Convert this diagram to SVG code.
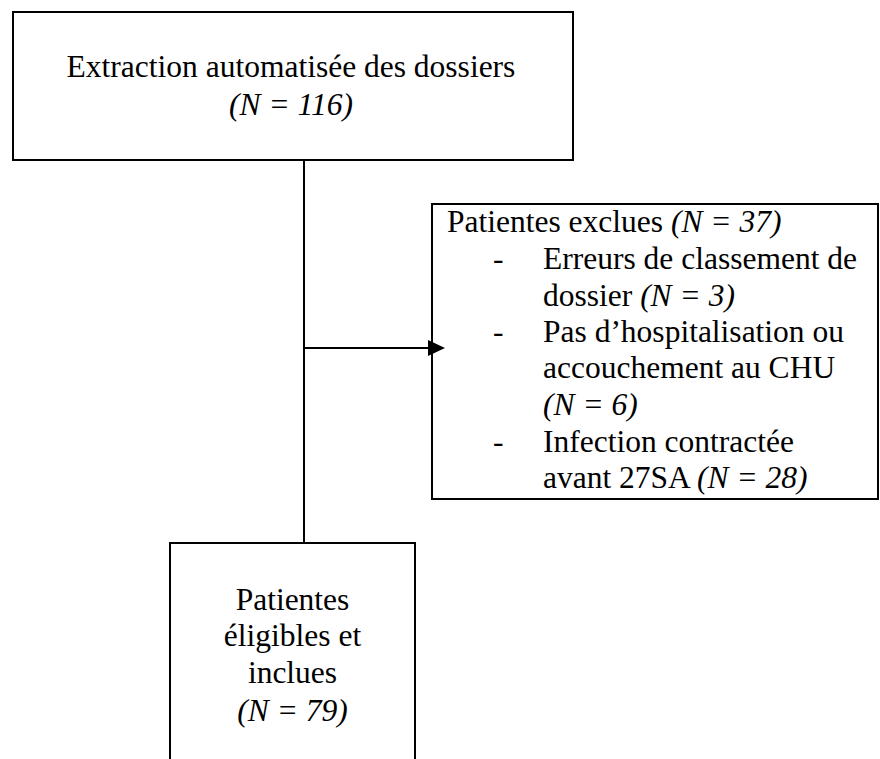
<svg xmlns="http://www.w3.org/2000/svg" width="880" height="759" viewBox="0 0 880 759">
<style>
.box{fill:#fff;stroke:#000;stroke-width:2}
.t{font-family:"Liberation Serif","Times New Roman",serif;font-size:31.5px;fill:#000}
.i{font-style:italic}
.c{text-anchor:middle}
.ln{stroke:#000;stroke-width:2;fill:none}
</style>
<g id="n1">
<rect class="box" x="13" y="12" width="560" height="148"/>
<text class="t c" x="291" y="77">Extraction automatisée des dossiers</text>
<text class="t c i" x="291" y="115">(N = 116)</text>
</g>
<g id="n2">
<rect class="box" x="432" y="204" width="446" height="295"/>
<text class="t" x="447" y="232">Patientes exclues <tspan class="i">(N = 37)</tspan></text>
<text class="t" x="493" y="269">-</text>
<text class="t" x="543" y="269">Erreurs de classement de</text>
<text class="t" x="543" y="306">dossier <tspan class="i">(N = 3)</tspan></text>
<text class="t" x="493" y="342">-</text>
<text class="t" x="543" y="342">Pas d’hospitalisation ou</text>
<text class="t" x="543" y="378">accouchement au CHU</text>
<text class="t i" x="543" y="415">(N = 6)</text>
<text class="t" x="493" y="452">-</text>
<text class="t" x="543" y="452">Infection contractée</text>
<text class="t" x="543" y="488">avant 27SA <tspan class="i">(N = 28)</tspan></text>
</g>
<g id="n3">
<rect class="box" x="170" y="543" width="245" height="230"/>
<text class="t c" x="292.5" y="610">Patientes</text>
<text class="t c" x="292.5" y="646">éligibles et</text>
<text class="t c" x="292.5" y="683">inclues</text>
<text class="t c i" x="292.5" y="721">(N = 79)</text>
</g>
<g id="connectors">
<line class="ln" x1="304" y1="161" x2="304" y2="542"/>
<line class="ln" x1="304" y1="348" x2="430" y2="348"/>
<path d="M428,340 L445,348 L428,356 z" fill="#000"/>
</g>
</svg>
